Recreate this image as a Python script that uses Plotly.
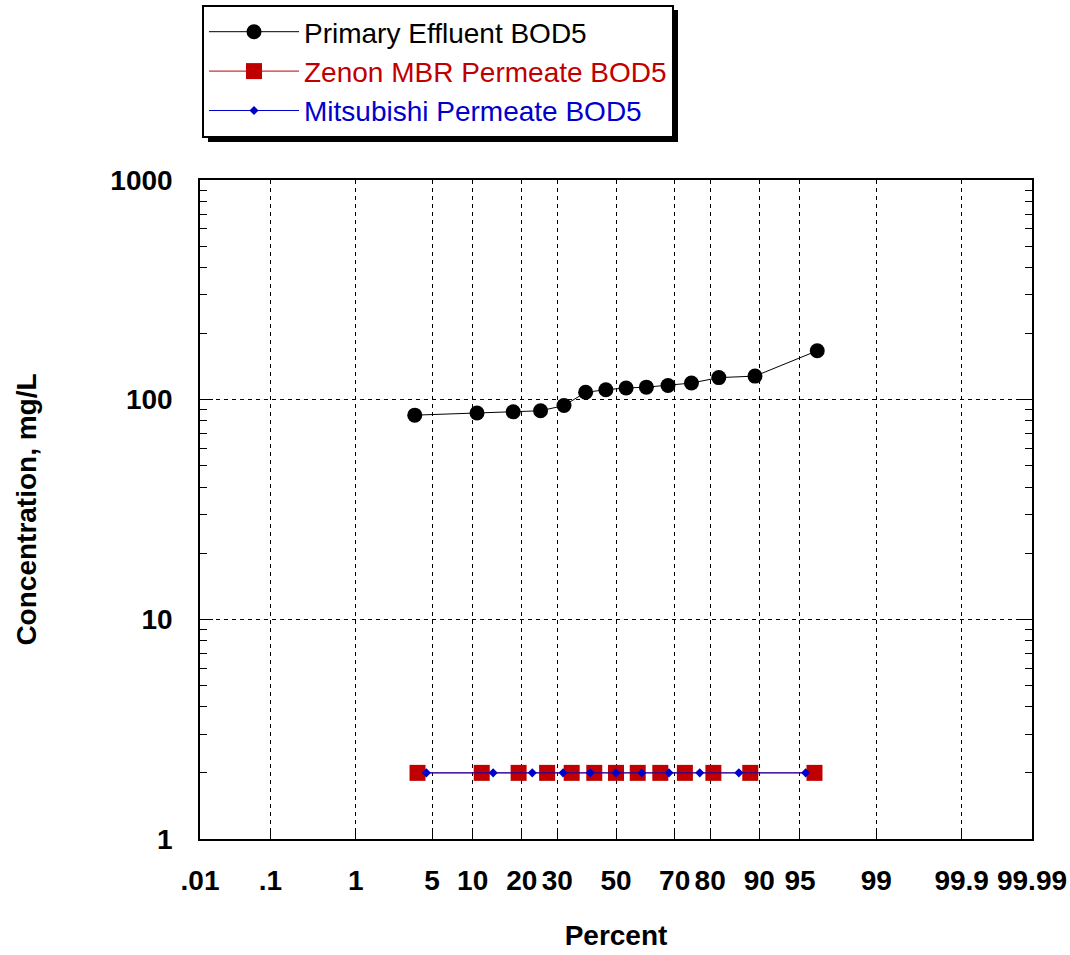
import plotly.graph_objects as go
from statistics import NormalDist

# ---------------- data ----------------
primary_pct = [3.6, 10.7, 17.9, 25.0, 32.1, 39.3, 46.4, 53.6, 60.7, 67.9, 75.0, 82.1, 89.3, 96.4]
primary_bod = [85, 87, 88, 89, 94, 108, 111, 113, 114, 116, 119, 126, 128, 167]

zenon_pct = [3.8, 11.5, 19.2, 26.9, 34.6, 42.3, 50.0, 57.7, 65.4, 73.1, 80.8, 88.5, 96.2]
zenon_bod = [2, 2, 2, 2, 2, 2, 2, 2, 2, 2, 2, 2, 2]

mitsu_pct = [4.5, 13.6, 22.7, 31.8, 40.9, 50.0, 59.1, 68.2, 77.3, 86.4, 95.5]
mitsu_bod = [2, 2, 2, 2, 2, 2, 2, 2, 2, 2, 2]

series_names = ["Primary Effluent BOD5", "Zenon MBR Permeate BOD5", "Mitsubishi Permeate BOD5"]

tick_pcts = [0.01, 0.1, 1, 5, 10, 20, 30, 50, 70, 80, 90, 95, 99, 99.9, 99.99]
tick_labels = [".01", ".1", "1", "5", "10", "20", "30", "50", "70", "80", "90", "95", "99", "99.9", "99.99"]
y_ticks = [1, 10, 100, 1000]
y_labels = ["1", "10", "100", "1000"]

# normal-probability scale transform
_nd = NormalDist()


def prob(p_list):
    return [_nd.inv_cdf(p / 100.0) for p in p_list]


FONT = "Arial, 'Liberation Sans', Helvetica, sans-serif"
BLACK = "#000000"
RED = "#C00000"
BLUE = "#0000CC"
FS = 28


def colored(name, color):
    return f"<span style='color:{color}'>{name}</span>"


fig = go.Figure()
fig.add_trace(go.Scatter(
    x=prob(primary_pct), y=primary_bod, mode="lines+markers",
    name=colored(series_names[0], BLACK),
    line=dict(color=BLACK, width=1),
    marker=dict(symbol="circle", size=15, color=BLACK),
))
fig.add_trace(go.Scatter(
    x=prob(zenon_pct), y=zenon_bod, mode="lines+markers",
    name=colored(series_names[1], RED),
    line=dict(color=RED, width=1),
    marker=dict(symbol="square", size=16, color=RED),
))
fig.add_trace(go.Scatter(
    x=prob(mitsu_pct), y=mitsu_bod, mode="lines+markers",
    name=colored(series_names[2], BLUE),
    line=dict(color=BLUE, width=1),
    marker=dict(symbol="diamond", size=7, color=BLUE),
))

xlim = _nd.inv_cdf(0.0001)
fig.update_xaxes(
    range=[xlim, -xlim], tickmode="array", tickvals=prob(tick_pcts), ticktext=tick_labels,
    showline=True, linecolor="black", linewidth=1.5, mirror=True,
    ticks="inside", ticklen=7, tickcolor="black", tickwidth=1,
    showgrid=True, gridcolor="black", gridwidth=1, griddash="4px,4px",
    zeroline=False, automargin=False,
    tickfont=dict(family=FONT, size=FS, color="black", weight="bold"),
    ticklabelstandoff=16,
    title=dict(text="Percent", font=dict(family=FONT, size=FS, color="black", weight="bold"), standoff=30),
)
fig.update_yaxes(
    type="log", range=[0, 3], tickmode="array", tickvals=y_ticks, ticktext=y_labels,
    showline=True, linecolor="black", linewidth=1.5, mirror="ticks",
    ticks="inside", ticklen=13, tickcolor="black", tickwidth=1,
    minor=dict(ticks="inside", ticklen=7, tickcolor="black", tickwidth=1, dtick="D1", showgrid=False),
    showgrid=True, gridcolor="black", gridwidth=1, griddash="4px,4px",
    zeroline=False, automargin=False,
    tickfont=dict(family=FONT, size=FS, color="black", weight="bold"),
    ticklabelstandoff=20,
    title=dict(text="Concentration, mg/L", font=dict(family=FONT, size=FS, color="black", weight="bold"), standoff=66),
)

# legend drop shadow (decorative box behind the legend)
L, T, PW, PH = 200, 180, 832, 659


def px_x(v):
    return (v - L) / PW


def px_y(v):
    return (T + PH - v) / PH


fig.add_shape(type="rect", xref="paper", yref="paper",
              x0=px_x(208), x1=px_x(678), y0=px_y(142), y1=px_y(10),
              fillcolor="black", line=dict(width=0), layer="above")

fig.update_layout(
    width=1070, height=955,
    margin=dict(l=200, r=38, t=180, b=116, autoexpand=False),
    paper_bgcolor="white", plot_bgcolor="white",
    showlegend=True,
    legend=dict(
        x=px_x(202), y=px_y(5), xanchor="left", yanchor="top",
        bgcolor="white", bordercolor="black", borderwidth=2,
        font=dict(family=FONT, size=FS, color="black"),
        tracegroupgap=0, itemwidth=90,
    ),
)

fig.write_html("out.html", config={"displayModeBar": False},
               post_script="document.body.style.margin='0';")
